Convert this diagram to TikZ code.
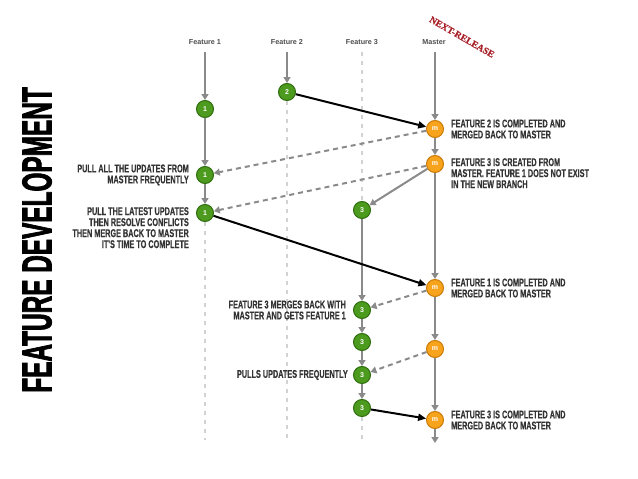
\documentclass[tikz,border=0pt]{standalone}
\usepackage{fontspec}
\setmainfont{Liberation Sans}
\newfontfamily\notefont[FakeStretch=0.65,FakeBold=0.4]{Liberation Sans}
\newfontfamily\titlefont[FakeStretch=0.58,FakeBold=1.6]{Liberation Sans}
\newfontfamily\stampfont[FakeBold=0.8]{Liberation Serif}
\usetikzlibrary{arrows.meta,positioning}
\definecolor{featgreen}{HTML}{4C9A1E}
\definecolor{featedge}{HTML}{2F6E0E}
\definecolor{mastorange}{HTML}{F7A31C}
\definecolor{mastedge}{HTML}{C97A08}
\definecolor{flowgray}{HTML}{8A8A8A}
\definecolor{trackgray}{HTML}{D2D2D2}
\definecolor{notegray}{HTML}{333333}
\definecolor{stampred}{HTML}{A8232A}
\tikzset{
  featnode/.style={circle, draw=featedge, fill=featgreen, line width=1pt,
    minimum size=17pt, inner sep=0pt, text=white,
    font=\bfseries\fontsize{7}{7}\selectfont},
  mastnode/.style={featnode, draw=mastedge, fill=mastorange},
  header/.style={font=\bfseries\fontsize{7.2}{8}\selectfont, text=black!70, inner sep=1pt},
  note/.style={font=\notefont\bfseries\fontsize{11.2}{11}\selectfont, text=notegray,
    inner sep=0pt, align=left},
  flow/.style={-{Triangle[length=6pt,width=7pt]}, line width=2pt, draw=flowgray},
  mergearr/.style={-{Triangle[length=8pt,width=7pt]}, line width=2pt, draw=black},
  pullarr/.style={flow, dash pattern=on 5pt off 4pt},
  track/.style={line width=1.5pt, draw=trackgray, dash pattern=on 4pt off 5pt}
}

\begin{document}
\begin{tikzpicture}[x=1pt, y=-1pt]
    \useasboundingbox (0,0) rectangle (638,479);
    \node[rotate=90, font=\titlefont\bfseries\fontsize{42}{42}\selectfont] (title) at (37,240) {FEATURE DEVELOPMENT};
    \node[rotate=-30, font=\stampfont\bfseries\fontsize{9.5}{10}\selectfont, text=stampred] (stamp) at (462,37) {NEXT-RELEASE};
    % branch headers
    \node[header] (h1) at (205,42) {Feature 1};
    \node[header] (h2) at (287,42) {Feature 2};
    \node[header] (h3) at (362,42) {Feature 3};
    \node[header] (hm) at (434,42) {Master};
    % commits
    \node[featnode] (f1a) at (205,109) {1};
    \node[featnode] (f1b) at (205,175) {1};
    \node[featnode] (f1c) at (205,213) {1};
    \node[featnode] (f2a) at (287,92) {2};
    \node[featnode] (f3a) at (362,210) {3};
    \node[featnode] (f3b) at (362,310) {3};
    \node[featnode] (f3c) at (362,342) {3};
    \node[featnode] (f3d) at (362,375) {3};
    \node[featnode] (f3e) at (362,408) {3};
    \node[mastnode] (m1) at (435,129) {m};
    \node[mastnode] (m2) at (435,164) {m};
    \node[mastnode] (m3) at (435,288) {m};
    \node[mastnode] (m4) at (435,349) {m};
    \node[mastnode] (m5) at (435,420) {m};
    \coordinate (e1) at (205,440);
    \coordinate (e2) at (287,440);
    \coordinate (e3) at (362,440);
    \coordinate (em) at (435,443);
    % dotted tracks
    \draw[track] (f1c) -- (e1);
    \draw[track] (f2a) -- (e2);
    \draw[track, shorten <=6pt] (h3) -- (f3a);
    \draw[track] (f3e) -- (e3);
    % branch flow
    \draw[flow, shorten <=6pt] (h1) -- (f1a);
    \draw[flow, shorten <=6pt] (h2) -- (f2a);
    \draw[flow, shorten <=6pt] (hm.south -| m1) -- (m1);
    \foreach \a/\b in {f1a/f1b, f1b/f1c, m1/m2, m2/m3, m3/m4, m4/m5, m5/em,
                       m2/f3a, f3a/f3b, f3b/f3c, f3c/f3d, f3d/f3e}
      \draw[flow] (\a) -- (\b);
    % pulls from master
    \foreach \a/\b in {m1/f1b, m2/f1c, m3/f3b, m4/f3d}
      \draw[pullarr] (\a) -- (\b);
    % merges into master
    \foreach \a/\b in {f2a/m1, f1c/m3, f3e/m5}
      \draw[mergearr] (\a) -- (\b);
    % notes
    \node[note, right=7pt of m1] (n1) {FEATURE 2 IS COMPLETED AND\\MERGED BACK TO MASTER};
    \node[note, below right=-6pt and 7pt of m2.east] (n2) {FEATURE 3 IS CREATED FROM\\MASTER. FEATURE 1 DOES NOT EXIST\\IN THE NEW BRANCH};
    \node[note, align=right, left=7pt of f1b] (n3) {PULL ALL THE UPDATES FROM\\MASTER FREQUENTLY};
    \node[note, align=right, below left=-6pt and 7pt of f1c.west] (n4) {PULL THE LATEST UPDATES\\THEN RESOLVE CONFLICTS\\THEN MERGE BACK TO MASTER\\IT'S TIME TO COMPLETE};
    \node[note, right=7pt of m3] (n5) {FEATURE 1 IS COMPLETED AND\\MERGED BACK TO MASTER};
    \node[note, align=right, left=7pt of f3b] (n6) {FEATURE 3 MERGES BACK WITH\\MASTER AND GETS FEATURE 1};
    \node[note, left=5pt of f3d] (n7) {PULLS UPDATES FREQUENTLY};
    \node[note, right=7pt of m5] (n8) {FEATURE 3 IS COMPLETED AND\\MERGED BACK TO MASTER};
  \end{tikzpicture}
\end{document}
